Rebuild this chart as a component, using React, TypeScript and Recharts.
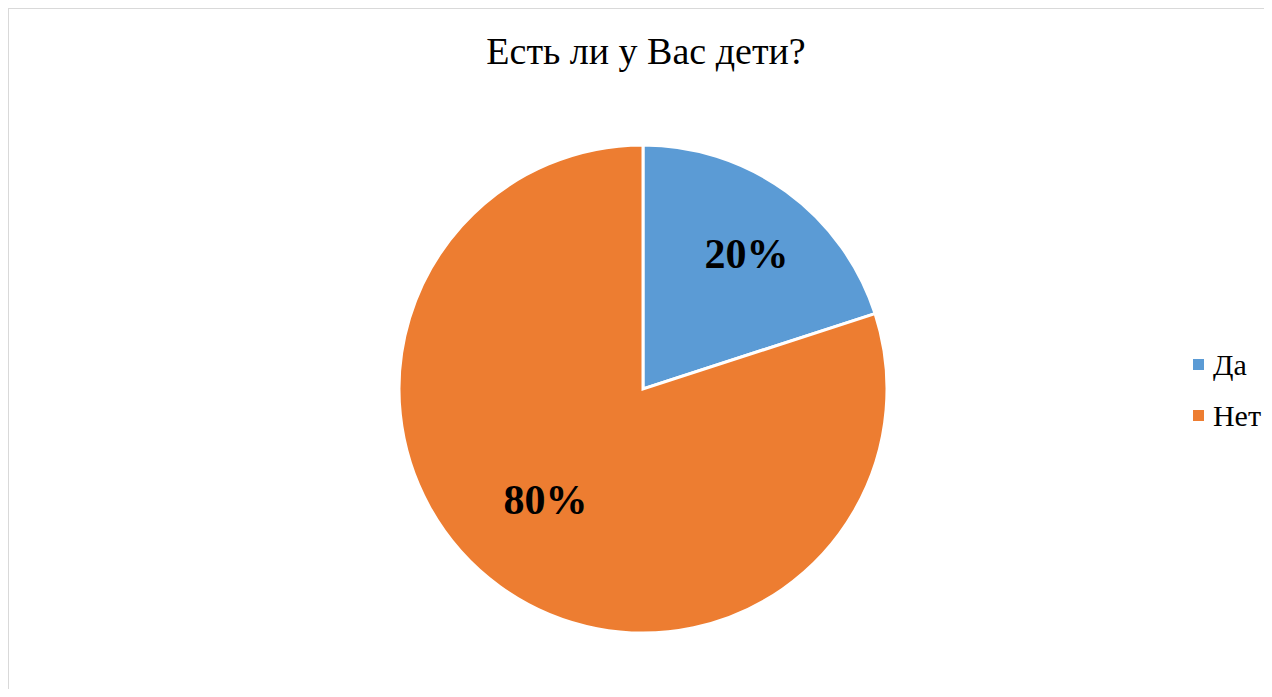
import { PieChart, Pie, Cell, Legend } from "recharts";

const categories = ["Да", "Нет"];
const shares = [20, 80];
const COLORS = ["#5b9bd5", "#ed7d31"];
const labelRadius = [0.7, 0.61];
const labelShift = [
  [3, 3],
  [-10, -9],
];

const data = categories.map((name, i) => ({ name, value: shares[i] }));

const RADIAN = Math.PI / 180;

const renderLabel = (props: any) => {
  const { cx, cy, midAngle, outerRadius, value, index } = props;
  const r = outerRadius * labelRadius[index];
  const x = cx + r * Math.cos(-midAngle * RADIAN) + labelShift[index][0];
  const y = cy + r * Math.sin(-midAngle * RADIAN) + labelShift[index][1];
  return (
    <text
      x={x}
      y={y}
      textAnchor="middle"
      dominantBaseline="central"
      fill="#000"
      fontFamily="'Liberation Serif', 'Times New Roman', serif"
      fontWeight="bold"
      fontSize={42}
    >
      {`${value}%`}
    </text>
  );
};

const renderLegend = () => (
  <div
    style={{
      fontFamily: "'Liberation Serif', serif",
      fontSize: 30,
      whiteSpace: "nowrap",
    }}
  >
    {data.map((d, i) => (
      <div
        key={d.name}
        style={{ display: "flex", alignItems: "center", height: 51 }}
      >
        <span
          style={{
            display: "inline-block",
            width: 11,
            height: 11,
            background: COLORS[i],
            marginRight: 9,
          }}
        />
        <span style={{ color: "#000" }}>{d.name}</span>
      </div>
    ))}
  </div>
);

export default function App() {
  return (
    <div
      style={{
        position: "relative",
        width: 1265,
        height: 689,
        borderTop: "1px solid #d9d9d9",
        borderLeft: "2px solid #d9d9d9",
        marginLeft: -1,
        marginBottom: -8,
        boxSizing: "border-box",
      }}
    >
      <div
        style={{
          position: "absolute",
          top: 20,
          left: 0,
          width: 1274,
          textAlign: "center",
          fontFamily: "'Liberation Serif', 'Times New Roman', serif",
          fontSize: 38,
          color: "#000",
        }}
      >
        Есть ли у Вас дети?
      </div>
      <PieChart width={1255} height={687}>
        <Pie
          data={data}
          dataKey="value"
          cx={629}
          cy={375}
          outerRadius={244}
          startAngle={90}
          endAngle={-270}
          stroke="#fff"
          strokeWidth={3}
          labelLine={false}
          label={renderLabel}
          isAnimationActive={false}
        >
          {data.map((_, i) => (
            <Cell key={`cell-${i}`} fill={COLORS[i]} />
          ))}
        </Pie>
        <Legend
          layout="vertical"
          verticalAlign="top"
          align="right"
          content={renderLegend}
          wrapperStyle={{ top: 330, left: 1184, width: 68 }}
        />
      </PieChart>
    </div>
  );
}
